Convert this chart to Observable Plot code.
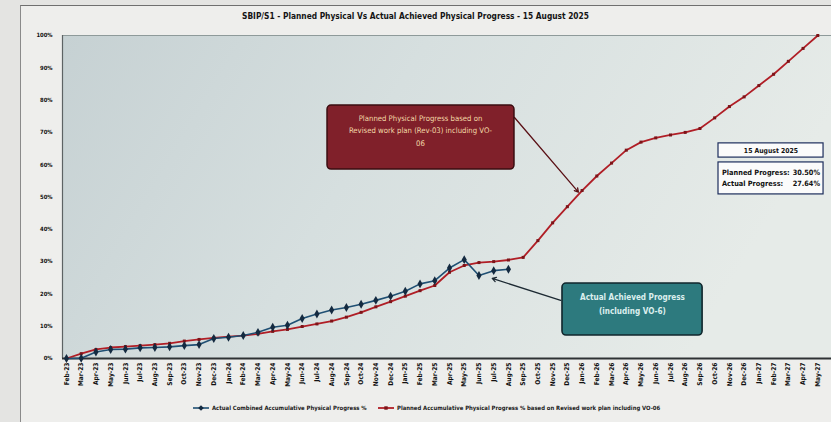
<!DOCTYPE html>
<html>
<head>
<meta charset="utf-8">
<script src="https://cdn.jsdelivr.net/npm/d3@7"></script>
<script src="https://cdn.jsdelivr.net/npm/@observablehq/plot@0.6"></script>
<style>
  html, body { margin: 0; padding: 0; }
  body {
    width: 831px; height: 422px; overflow: hidden; position: relative;
    background: #e4e4e2;
    font-family: "Liberation Sans Narrow", "Arial Narrow", "DejaVu Sans Condensed", sans-serif;
  }
  #sheet {
    position: absolute; left: 20px; top: 5px; width: 830px; height: 430px;
    border-top: 1.5px solid #6f6f6f; border-left: 1px solid #8a8a8a;
    background: #eeeeec;
  }
  #title {
    position: absolute; left: 0; top: 11px; width: 831px; text-align: center;
    font-weight: bold; font-size: 8.3px; color: #141414; white-space: nowrap;
  }
  #chart { position: absolute; left: 0; top: 30px; }
  .leg {
    position: absolute; top: 405px; font-size: 5.9px; font-weight: bold; color: #1a1a1a;
    white-space: nowrap; display: flex; align-items: center;
  }
  .leg svg { margin-right: 3px; }
</style>
</head>
<body>
<div id="sheet"></div>
<div id="title">SBIP/S1 - Planned Physical Vs Actual Achieved Physical Progress - 15 August 2025</div>
<div id="chart"></div>
<div class="leg" style="left:193px"><svg width="16" height="6"><line x1="0" y1="3" x2="16" y2="3" stroke="#1f4f73" stroke-width="1.6"/><path d="M8,0.2 L10.8,3 L8,5.8 L5.2,3Z" fill="#142a40"/></svg><span id="leg1"></span></div>
<div class="leg" style="left:378px"><svg width="16" height="6"><line x1="0" y1="3" x2="16" y2="3" stroke="#b01e26" stroke-width="1.8"/><rect x="6.3" y="1.3" width="3.4" height="3.4" fill="#7d1419"/></svg><span id="leg2"></span></div>
<script>
// ---------- data ----------
const months = [
  "Feb-23","Mar-23","Apr-23","May-23","Jun-23","Jul-23","Aug-23","Sep-23","Oct-23","Nov-23","Dec-23",
  "Jan-24","Feb-24","Mar-24","Apr-24","May-24","Jun-24","Jul-24","Aug-24","Sep-24","Oct-24","Nov-24","Dec-24",
  "Jan-25","Feb-25","Mar-25","Apr-25","May-25","Jun-25","Jul-25","Aug-25","Sep-25","Oct-25","Nov-25","Dec-25",
  "Jan-26","Feb-26","Mar-26","Apr-26","May-26","Jun-26","Jul-26","Aug-26","Sep-26","Oct-26","Nov-26","Dec-26",
  "Jan-27","Feb-27","Mar-27","Apr-27","May-27"
];
// Planned accumulative physical progress % (Rev-03 incl. VO-06)
const planned = [
  0, 1.5, 2.8, 3.4, 3.7, 4.0, 4.3, 4.7, 5.4, 5.9, 6.4,
  6.8, 7.1, 7.6, 8.4, 9.0, 9.9, 10.7, 11.6, 12.8, 14.3, 16.0, 17.6,
  19.3, 21.0, 22.6, 26.7, 28.8, 29.7, 30.0, 30.5, 31.3, 36.5, 42.0, 47.0,
  52.0, 56.5, 60.5, 64.5, 67.0, 68.3, 69.2, 70.0, 71.2, 74.5, 78.0, 81.0,
  84.5, 88.0, 92.0, 96.0, 100
];
// Actual combined accumulative physical progress %
const actual = [
  0, 0.1, 2.0, 2.8, 2.9, 3.3, 3.4, 3.6, 4.0, 4.3, 6.2,
  6.6, 7.1, 8.1, 9.7, 10.3, 12.4, 13.8, 15.0, 15.8, 16.8, 18.0, 19.3,
  20.8, 23.1, 24.1, 28.0, 30.6, 25.7, 27.2, 27.64
];
const yTicks = [0, 10, 20, 30, 40, 50, 60, 70, 80, 90, 100];
const seriesNames = [
  "Actual  Combined Accumulative Physical Progress %",
  "Planned Accumulative Physical Progress % based on Revised work plan including VO-06"
];
const plannedNote = ["Planned Physical Progress based on", "Revised work plan (Rev-03) including VO-", "06"];
const actualNote = ["Actual Achieved Progress", "(including VO-6)"];
const statusDate = "15 August 2025";
const statusRows = [["Planned Progress:", "30.50%"], ["Actual Progress:", "27.64%"]];

document.getElementById("leg1").textContent = seriesNames[0];
document.getElementById("leg2").textContent = seriesNames[1];

const planData = planned.map((v, i) => ({i, v}));
const actData = actual.map((v, i) => ({i, v}));

const FONT = '"Liberation Sans Narrow", "Arial Narrow", "DejaVu Sans Condensed", sans-serif';

const chart = Plot.plot({
  width: 831, height: 366,
  marginLeft: 62, marginRight: 0, marginTop: 5, marginBottom: 38,
  style: {background: "transparent", fontFamily: FONT, overflow: "visible"},
  x: {type: "linear", domain: [-0.27, 51.93], axis: null},
  y: {domain: [0, 100], axis: null},
  marks: [
    Plot.frame({fill: "url(#bgGrad)", stroke: null}),
    Plot.ruleY([100], {stroke: "#8e9a9a", strokeWidth: 1}),
    Plot.axisX({ticks: d3.range(months.length), tickFormat: i => months[i], tickRotate: -90,
      tickSize: 0, tickPadding: 4, fontSize: 6.6, fill: "#111", label: null}),
    Plot.axisY({ticks: yTicks, tickFormat: d => d + "%", tickSize: 0, tickPadding: 10,
      fontSize: 5.8, fill: "#111", label: null}),
    Plot.ruleX([-0.27], {stroke: "#5d6364", strokeWidth: 1.2}),
    Plot.ruleY([0], {stroke: "#2e3234", strokeWidth: 2}),
    // series
    Plot.line(planData, {x: "i", y: "v", stroke: "#b01e26", strokeWidth: 1.8}),
    Plot.dot(planData, {x: "i", y: "v", symbol: "square", r: 1.7, fill: "#7d1419"}),
    Plot.line(actData, {x: "i", y: "v", stroke: "#1f4f73", strokeWidth: 1.6}),
    Plot.dot(actData, {x: "i", y: "v", symbol: "diamond", r: 2.7, fill: "#142a40"}),
    // planned annotation
    Plot.arrow([0], {x1: 30.41, y1: 74.6, x2: 34.75, y2: 51.5, stroke: "#5a1015", strokeWidth: 1.3, headLength: 5}),
    Plot.rect([0], {x1: 17.72, x2: 30.41, y1: 58.5, y2: 78.3, fill: "#80202a", stroke: "#3a0c10", strokeWidth: 1.5, rx: 4}),
    Plot.text(plannedNote, {x: 24.03, y: (d, k) => 74.3 - k * 3.85, text: d => d, fill: "#f3d9a8", fontSize: 7.7}),
    // actual annotation
    Plot.arrow([0], {x1: 33.55, y1: 18.0, x2: 28.9, y2: 24.8, stroke: "#1d2a33", strokeWidth: 1.3, headLength: 5}),
    Plot.rect([0], {x1: 33.67, x2: 43.18, y1: 7.1, y2: 23.2, fill: "#2d7a7e", stroke: "#10262c", strokeWidth: 1.6, rx: 4}),
    Plot.text(actualNote, {x: 38.42, y: (d, k) => 18.9 - k * 4.3, text: d => d, fill: "#dcefee", fontSize: 8.1, fontWeight: "bold"}),
    // status boxes
    Plot.rect([0], {x1: 44.26, x2: 51.39, y1: 62.2, y2: 66.6, fill: "#fbfbfb", stroke: "#1c2d5c", strokeWidth: 1.2}),
    Plot.text([statusDate], {x: 47.82, y: 64.4, text: d => d, fill: "#111", fontSize: 6.8, fontWeight: "bold"}),
    Plot.rect([0], {x1: 44.26, x2: 51.39, y1: 50.8, y2: 60.7, fill: "#fbfbfb", stroke: "#1c2d5c", strokeWidth: 1.2}),
    Plot.text(statusRows, {x: 44.5, y: (d, k) => 57.6 - k * 3.4, text: d => d[0], textAnchor: "start", fill: "#111", fontSize: 7.3, fontWeight: "bold"}),
    Plot.text(statusRows, {x: 51.15, y: (d, k) => 57.6 - k * 3.4, text: d => d[1], textAnchor: "end", fill: "#111", fontSize: 7.3, fontWeight: "bold"})
  ]
});

// background gradient for the plot area
const svg = d3.select(chart);
const defs = svg.insert("defs", ":first-child");
const grad = defs.append("linearGradient").attr("id", "bgGrad")
  .attr("x1", 0).attr("y1", 0).attr("x2", 1).attr("y2", 0.25);
grad.append("stop").attr("offset", "0%").attr("stop-color", "#c6d1d3");
grad.append("stop").attr("offset", "45%").attr("stop-color", "#d6dfdf");
grad.append("stop").attr("offset", "100%").attr("stop-color", "#e6ebe8");
svg.selectAll('g[aria-label="x-axis tick label"], g[aria-label="y-axis tick label"]')
  .attr("font-weight", "bold");

document.getElementById("chart").appendChild(chart);
</script>
</body>
</html>
